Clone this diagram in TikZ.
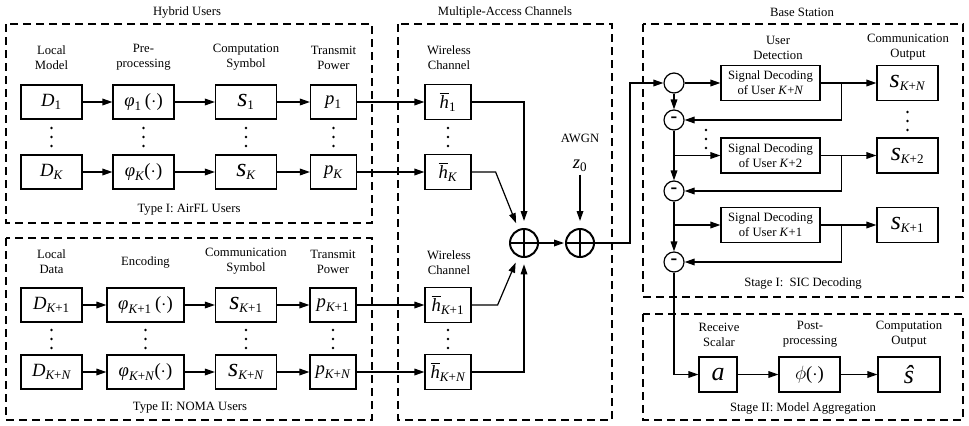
\documentclass[tikz,border=0pt]{standalone}
\usepackage{amsmath}
\usepackage{fontspec}
\setmainfont{Liberation Serif}
\usetikzlibrary{arrows.meta,calc}
\newcommand\lblf{\fontsize{9.5}{11.25}\selectfont}
\newcommand\mathf{\fontsize{14}{16}\selectfont}
\newcommand\mi[1]{\textit{#1}}
\newcommand\bigs[1]{\text{\fontsize{19.5}{20}\selectfont\itshape #1}}
\newcommand\dotarg{\text{(}{\cdot}\text{)}}
\tikzset{
  box/.style={draw, line width=0.9pt, inner sep=0pt, minimum height=25.5pt, minimum width=45.75pt, font=\mathf},
  pbox/.style={box, minimum width=34.5pt},
  wbox/.style={box, minimum width=57.75pt},
  hbox/.style={box, minimum width=34.5pt, minimum height=26.25pt},
  sdbox/.style={box, minimum width=74.25pt, minimum height=26.25pt, font=\lblf, align=center},
  obox/.style={box, minimum width=45.75pt, minimum height=26.25pt},
  abox/.style={box, minimum width=28.5pt, minimum height=26.25pt},
  lbl/.style={font=\lblf, align=center, inner sep=0pt},
  frame/.style={draw, dash pattern=on 6pt off 3.75pt, line width=0.9pt},
  arr/.style={-{Triangle[length=7.5pt,width=5pt]}, line width=0.9pt},
  sumc/.style={circle, draw, line width=1.5pt, minimum size=21pt, inner sep=0pt, outer sep=0pt},
  sicc/.style={circle, draw, line width=0.9pt, minimum size=15pt, inner sep=0pt, font=\fontsize{15}{15}\selectfont\bfseries},
}
\begin{document}
\begin{tikzpicture}[x=0.75pt,y=-0.75pt]
\useasboundingbox (0,0) rectangle (969,425);
% frames
\draw[frame] (6,24) rectangle (372,223);
\draw[frame] (6,238) rectangle (372,420);
\draw[frame] (398,24) rectangle (612,420);
\draw[frame] (643,24) rectangle (963,297);
\draw[frame] (643,314) rectangle (963,420);
% titles
\node[lbl] (tHU) at (187,12) {Hybrid Users};
\node[lbl] (tMA) at (505,12) {Multiple-Access Channels};
\node[lbl] (tBS) at (802,12) {Base Station};
\node[lbl] (tT1) at (189,210) {Type I: AirFL Users};
\node[lbl] (tT2) at (190,408) {Type II: NOMA Users};
\node[lbl] (tS1) at (803,283) {Stage I:~ SIC Decoding};
\node[lbl] (tS2) at (803,408) {Stage II: Model Aggregation};
% column labels, top
\node[lbl] (lLM) at (51.5,57.5) {Local\\Model};
\node[lbl] (lPP) at (143.5,57.5) {Pre-\\processing};
\node[lbl] (lCS) at (246,57.5) {Computation\\Symbol};
\node[lbl] (lTP) at (333.5,57.5) {Transmit\\Power};
\node[lbl] (lWC) at (449,57.5) {Wireless\\Channel};
% column labels, bottom
\node[lbl] (lLD) at (51.5,261.5) {Local\\Data};
\node[lbl] (lEN) at (145.5,262) {Encoding};
\node[lbl] (lCM) at (246,261.5) {Communication\\Symbol};
\node[lbl] (lTP2) at (333,261.5) {Transmit\\Power};
\node[lbl] (lWC2) at (449,262.5) {Wireless\\Channel};
% right labels
\node[lbl] (lUD) at (778,47.5) {User\\Detection};
\node[lbl] (lCO) at (908,47.5) {Communication\\Output};
\node[lbl] (lRS) at (719,334.5) {Receive\\Scalar};
\node[lbl] (lPo) at (810,334.5) {Post-\\processing};
\node[lbl] (lCp) at (909,334.5) {Computation\\Output};
\node[lbl] (lAW) at (580,138) {AWGN};
% AirFL users
\node[box] (D1) at (51.5,102) {$\mi{D}_{\text{1}}$};
\node[box] (DK) at (51.5,172) {$\mi{D}_{\mi{K}}$};
\node[box] (f1) at (143.5,102) {$\mi{φ}_{\text{1}}\,\dotarg$};
\node[box] (fK) at (143.5,172) {$\mi{φ}_{\mi{K}}\dotarg$};
\node[box] (s1) at (246,102) {$\bigs{s}_{\text{1}}$};
\node[box] (sK) at (246,172) {$\bigs{s}_{\mi{K}}$};
\node[pbox] (p1) at (333.5,102) {$\mi{p}_{\text{1}}$};
\node[pbox] (pK) at (333.5,172) {$\mi{p}_{\mi{K}}$};
\node[hbox] (h1) at (448,102) {$\overline{\mi{h}}_{\text{1}}$};
\node[hbox] (hK) at (448,172) {$\overline{\mi{h}}_{\mi{K}}$};
% NOMA users
\node[box] (D2) at (51.5,305) {$\mi{D}_{\mi{K}\text{+1}}$};
\node[box] (DN) at (51.5,372) {$\mi{D}_{\mi{K}\text{+}\mi{N}}$};
\node[wbox] (f2) at (145.5,305) {$\mi{φ}_{\mi{K}\text{+1}}\,\dotarg$};
\node[wbox] (fN) at (145.5,372) {$\mi{φ}_{\mi{K}\text{+}\mi{N}}\dotarg$};
\node[box] (s2) at (246,305) {$\bigs{s}_{\mi{K}\text{+1}}$};
\node[box] (sN) at (246,372) {$\bigs{s}_{\mi{K}\text{+}\mi{N}}$};
\node[pbox] (p2) at (333,305) {$\mi{p}_{\mi{K}\text{+1}}$};
\node[pbox] (pN) at (333,372) {$\mi{p}_{\mi{K}\text{+}\mi{N}}$};
\node[hbox] (h2) at (448,305) {$\overline{\mi{h}}_{\mi{K}\text{+1}}$};
\node[hbox] (hN) at (448,372) {$\overline{\mi{h}}_{\mi{K}\text{+}\mi{N}}$};
% dots
\foreach \x in {51.5,143.5,246,333.5,448}{\foreach \y in {128,137,146}{\fill (\x,\y) circle (1.1pt);}}
\foreach \x in {51.5,145.5,246,333,448}{\foreach \y in {330,339,348}{\fill (\x,\y) circle (1.1pt);}}
\foreach \y in {130,139,148}{\fill (706,\y) circle (1.1pt);}
\foreach \y in {112,121,130}{\fill (907.5,\y) circle (1.1pt);}
% left arrows
\draw[arr] (D1) -- (f1); \draw[arr] (f1) -- (s1); \draw[arr] (s1) -- (p1); \draw[arr] (p1) -- (h1);
\draw[arr] (DK) -- (fK); \draw[arr] (fK) -- (sK); \draw[arr] (sK) -- (pK); \draw[arr] (pK) -- (hK);
\draw[arr] (D2) -- (f2); \draw[arr] (f2) -- (s2); \draw[arr] (s2) -- (p2); \draw[arr] (p2) -- (h2);
\draw[arr] (DN) -- (fN); \draw[arr] (fN) -- (sN); \draw[arr] (sN) -- (pN); \draw[arr] (pN) -- (hN);
% summation
\node[sumc] (sum1) at (524,243) {};
\node[sumc] (sum2) at (580,243) {};
\draw[line width=1.5pt] (sum1.north) -- (sum1.south) (sum1.west) -- (sum1.east);
\draw[line width=1.5pt] (sum2.north) -- (sum2.south) (sum2.west) -- (sum2.east);
\node[font=\mathf, inner sep=2pt] (z0) at (580,166) {$\mi{z}_{\text{0}}$};
\draw[arr, shorten >=6pt] (h1.east) -| (sum1.north);
\draw[arr, shorten >=5.5pt] (hK.east) -- ++(24,0) -- (sum1);
\draw[arr, shorten >=5.5pt] (h2.east) -- ++(26,0) -- (sum1);
\draw[arr, shorten >=5.5pt] (hN.east) -| (sum1.south);
\draw[arr, shorten >=1.5pt] (sum1) -- (sum2);
\draw[arr, shorten >=6pt] (z0) -- (sum2);
% base station
\node[sicc] (cIn) at (674,83) {};
\node[sicc] (m1) at (674,120) {-};
\node[sicc] (m2) at (674,191) {-};
\node[sicc] (m3) at (674,262) {-};
\node[sdbox] (SD1) at (770.5,83) {Signal Decoding\\of User \textit{K}+\textit{N}};
\node[sdbox] (SD2) at (770.5,155.5) {Signal Decoding\\of User \textit{K}+2};
\node[sdbox] (SD3) at (770.5,225) {Signal Decoding\\of User \textit{K}+1};
\node[obox] (oN) at (907.5,83) {$\bigs{s}_{\mi{K}\text{+}\mi{N}}$};
\node[obox] (o2) at (907.5,155.5) {$\bigs{s}_{\mi{K}\text{+2}}$};
\node[obox] (o1) at (907.5,225) {$\bigs{s}_{\mi{K}\text{+1}}$};
\draw[arr] (sum2.east) -- ++(36,0) |- (cIn.west);
\draw[arr] (cIn) -- (SD1);
\draw[arr] (SD1) -- (oN);
\draw[arr] (SD2) -- (o2);
\draw[arr] (SD3) -- (o1);
\draw[arr] ($(SD1.east)+(21,0)$) |- (m1.east);
\draw[arr] ($(SD2.east)+(21,0)$) |- (m2.east);
\draw[arr] ($(SD3.east)+(21,0)$) |- (m3.east);
\draw[arr] (cIn) -- (m1);
\draw[arr] (m1) -- (m2);
\draw[arr] (m2) -- (m3);
\draw[arr] (m1.south |- SD2.west) -- (SD2.west);
\draw[arr] (m2.south |- SD3.west) -- (SD3.west);
% stage II
\node[abox] (a) at (718,374.5) {$\bigs{a}$};
\node[box, minimum height=26.25pt] (pp) at (809.5,374.5) {$\phi\dotarg$};
\node[box, minimum width=46.5pt, minimum height=26.25pt, font=\fontsize{19.5}{20}\selectfont\itshape] (sh) at (909,374.5) {ŝ};
\draw[arr] (m3.south) |- (a.west);
\draw[arr] (a) -- (pp);
\draw[arr] (pp) -- (sh);
\end{tikzpicture}
\end{document}
